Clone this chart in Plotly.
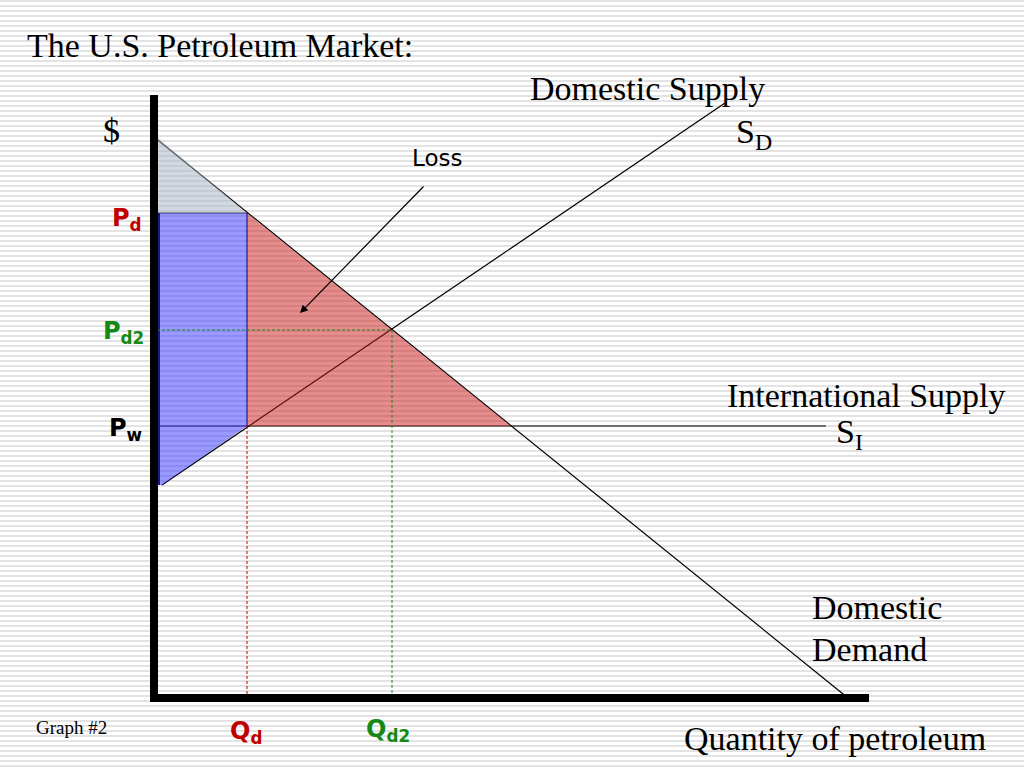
import plotly.graph_objects as go

# ---- data (economic units) ----
demand_q = [0.0, 69.4]
demand_p = [56.1, 0.0]
supply_q = [0.8, 57.1]
supply_p = [21.3, 59.5]
intl_q = [0.0, 67.2]
intl_p = [27.2, 27.2]

P_d, P_d2, P_w = 48.5, 36.8, 27.2
Q_d, Q_d2, Q_w = 9.3, 23.8, 35.7
axis_top, axis_right = 60.3, 71.5

W, H = 1024, 768
def fx(px):
    return px / W
def fy(py):
    return 1 - py / H

fig = go.Figure()

def line(xs, ys, color="black", width=1.2, dash=None):
    fig.add_trace(go.Scatter(x=xs, y=ys, mode="lines", hoverinfo="skip",
                             line=dict(color=color, width=width, dash=dash),
                             showlegend=False))

def fill(xs, ys, color):
    fig.add_trace(go.Scatter(x=xs, y=ys, mode="lines", fill="toself",
                             fillcolor=color, line=dict(width=0),
                             hoverinfo="skip", showlegend=False))

# curves (drawn first, fills lay over them)
line(demand_q, demand_p)
line(supply_q, supply_p)
line(intl_q, intl_p)
line([0.0, Q_d], [P_d, P_d])
line([Q_d, Q_d], [P_d, P_w])
line([0.45, 0.45], [supply_p[0], P_d], width=3)

# areas
fill([0.3, Q_d, 0.3, 0.3], [demand_p[0], P_d, P_d, demand_p[0]], "rgba(165,180,195,0.5)")
fill([0.3, Q_d, Q_d, supply_q[0], 0.3, 0.3],
     [P_d, P_d, P_w, supply_p[0], supply_p[0], P_d], "rgba(51,51,255,0.5)")
fill([Q_d, Q_w, Q_d, Q_d], [P_d, P_w, P_w, P_d], "rgba(204,25,25,0.5)")

# dashed guides
line([0.3, Q_d2], [P_d2, P_d2], color="#1a8a1a", width=1, dash="3px,2px")
line([Q_d2, Q_d2], [P_d2, 0], color="#1a8a1a", width=1, dash="3px,2px")
line([Q_d, Q_d], [P_w, 0], color="#c00000", width=1, dash="3px,2px")

# thick axes
line([0, 0, axis_right], [axis_top, 0, 0], width=8)

# background stripes
path = " ".join(f"M0,{1 - (y + 1) / H:.5f} H1" for y in range(0, H, 5))
shapes = [dict(type="path", xref="paper", yref="paper", path=path,
               line=dict(color="#e3e3e3", width=2), layer="below")]

serif = "Liberation Serif"
sans = "DejaVu Sans"
ann = []
def txt(s, x, y, size, color="black", family=serif, xanchor="left"):
    shift = -3 if xanchor == "left" else 3
    ann.append(dict(text=s, x=fx(x + shift), y=fy(y), xref="paper", yref="paper",
                    xanchor=xanchor, yanchor="middle", showarrow=False,
                    font=dict(family=family, size=size, color=color)))

S = 34
txt("The U.S. Petroleum Market:", 28, 45, S)
txt("Domestic Supply", 531, 88, S)
txt("$", 104, 130, S)
txt("S<sub>D</sub>", 737, 134, S)
txt("Loss", 413, 158, 23, family=sans)
txt("International Supply", 728, 395, S)
txt("S<sub>I</sub>", 837, 434, S)
txt("Domestic", 813, 607, S)
txt("Demand", 813, 649, S)
txt("Graph #2", 37, 727, 19)
txt("Quantity of petroleum", 685, 738, S)
txt("<b>P</b><sub><b>d</b></sub>", 141, 220, 24, color="#c00000", family=sans, xanchor="right")
txt("<b>P</b><sub><b>d2</b></sub>", 143, 332, 24, color="#138a13", family=sans, xanchor="right")
txt("<b>P</b><sub><b>w</b></sub>", 141, 429, 24, family=sans, xanchor="right")
txt("<b>Q</b><sub><b>d</b></sub>", 231, 732, 24, color="#c00000", family=sans)
txt("<b>Q</b><sub><b>d2</b></sub>", 367, 730, 24, color="#138a13", family=sans)

# loss arrow
ann.append(dict(x=14.6, y=38.5, ax=27.1, ay=51.3, xref="x", yref="y",
                axref="x", ayref="y", text="", showarrow=True,
                arrowhead=2, arrowsize=1.3, arrowwidth=1.2, arrowcolor="black"))

fig.update_layout(
    width=W, height=H, margin=dict(l=0, r=0, t=0, b=0),
    paper_bgcolor="white", plot_bgcolor="rgba(0,0,0,0)",
    xaxis=dict(range=[-15.4, 87.0], visible=False, fixedrange=True),
    yaxis=dict(range=[-7.0, 69.8], visible=False, fixedrange=True),
    shapes=shapes, annotations=ann, showlegend=False,
)

fig.write_html("out.html", config={"displayModeBar": False},
               post_script="document.body.style.margin='0';")
